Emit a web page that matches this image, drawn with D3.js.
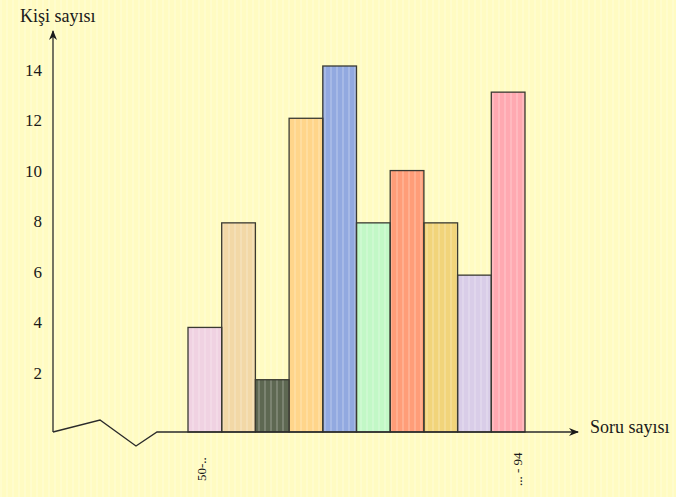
<!DOCTYPE html>
<html>
<head>
<meta charset="utf-8">
<script src="https://d3js.org/d3.v7.min.js"></script>
<style>
    body { margin: 0; background: #fffbc2; }
    svg { display: block; }
    svg text { font-family: "Liberation Serif", "Times New Roman", Times, "DejaVu Serif", serif; fill: #1a1a1a; }
</style>
</head>
<body>
<svg id="chart"></svg>
<script>
// data
const groups = ["g1", "g2", "g3", "g4", "g5", "g6", "g7", "g8", "g9", "g10"];
const counts = [4, 8, 2, 12, 14, 8, 10, 8, 6, 13];
const barColors = ["#f0d2e2", "#f2d8a6", "#5e6852", "#ffd58a", "#92a9e0",
                   "#c2f8c6", "#ff9d78", "#f1d47a", "#d9cde8", "#ffa9b1"];
const yTicks = [2, 4, 6, 8, 10, 12, 14];
const xEdgeLabels = ["50-..", "... - 94"];

const width = 676, height = 497;
const serif = "'Liberation Serif', 'Times New Roman', Times, serif";

const svg = d3.select("#chart")
    .attr("width", width)
    .attr("height", height)
    .attr("font-family", serif);

// faint vertical stripes like the scanned background
const defs = svg.append("defs");
const pat = defs.append("pattern")
    .attr("id", "stripes")
    .attr("patternUnits", "userSpaceOnUse")
    .attr("width", 6)
    .attr("height", 10);
pat.append("rect").attr("width", 2).attr("height", 10).attr("fill", "#ffffff").attr("opacity", 0.18);

svg.append("rect").attr("width", width).attr("height", height).attr("fill", "#fffbc2");

// scales
const x = d3.scaleBand().domain(groups).range([188, 525]).padding(0);
const y = d3.scaleLinear().domain([0, 14]).range([432, 66]);
// tick labels in the original sit on a slightly tighter spacing
const yLab = d3.scaleLinear().domain([2, 14]).range([373, 70]);

// bar fills
svg.append("g").selectAll("rect").data(counts)
    .join("rect")
    .attr("x", (d, i) => x(groups[i]))
    .attr("y", d => y(d))
    .attr("width", x.bandwidth())
    .attr("height", d => y(0) - y(d))
    .attr("fill", (d, i) => barColors[i]);

svg.append("rect").attr("width", width).attr("height", height).attr("fill", "url(#stripes)");

// bar outlines
svg.append("g").selectAll("rect").data(counts)
    .join("rect")
    .attr("x", (d, i) => x(groups[i]))
    .attr("y", d => y(d))
    .attr("width", x.bandwidth())
    .attr("height", d => y(0) - y(d))
    .attr("fill", "none")
    .attr("stroke", "#3a3a32")
    .attr("stroke-width", 1.3);

// arrow heads
defs.append("marker")
    .attr("id", "arrow")
    .attr("viewBox", "0 0 10 10")
    .attr("refX", 9).attr("refY", 5)
    .attr("markerWidth", 10).attr("markerHeight", 10)
    .attr("markerUnits", "userSpaceOnUse")
    .attr("orient", "auto")
    .append("path")
    .attr("d", "M0,1 L10,5 L0,9 L3,5 Z")
    .attr("fill", "#1a1a1a");

// y axis
svg.append("line")
    .attr("x1", 53).attr("y1", y(0))
    .attr("x2", 53).attr("y2", 31)
    .attr("stroke", "#2a2a2a").attr("stroke-width", 1.3)
    .attr("marker-end", "url(#arrow)");

// x axis with the broken (zigzag) start
const x0 = y(0);
svg.append("path")
    .attr("d", d3.line()([[53, x0], [100, x0 - 12], [136, x0 + 14], [157, x0], [578, x0]]))
    .attr("fill", "none")
    .attr("stroke", "#2a2a2a").attr("stroke-width", 1.3)
    .attr("marker-end", "url(#arrow)");

// y tick labels
svg.append("g").selectAll("text").data(yTicks)
    .join("text")
    .attr("x", 42)
    .attr("y", d => yLab(d))
    .attr("dy", "0.35em")
    .attr("text-anchor", "end")
    .style("font-size", "17px")
    .text(d => d);

// axis titles
svg.append("text")
    .attr("x", 20).attr("y", 22)
    .style("font-size", "18px")
    .text("Kişi sayısı");

svg.append("text")
    .attr("x", 590).attr("y", 433)
    .style("font-size", "18px")
    .text("Soru sayısı");

// rotated interval labels under first and last bars
const edgeX = [201, 517];
const edgeY = [481, 486];
svg.append("g").selectAll("text").data(xEdgeLabels)
    .join("text")
    .attr("transform", (d, i) => "translate(" + edgeX[i] + "," + edgeY[i] + ") rotate(-90)")
    .attr("dy", "0.35em")
    .attr("text-anchor", "start")
    .style("font-size", "13px")
    .text(d => d);
</script>
</body>
</html>
